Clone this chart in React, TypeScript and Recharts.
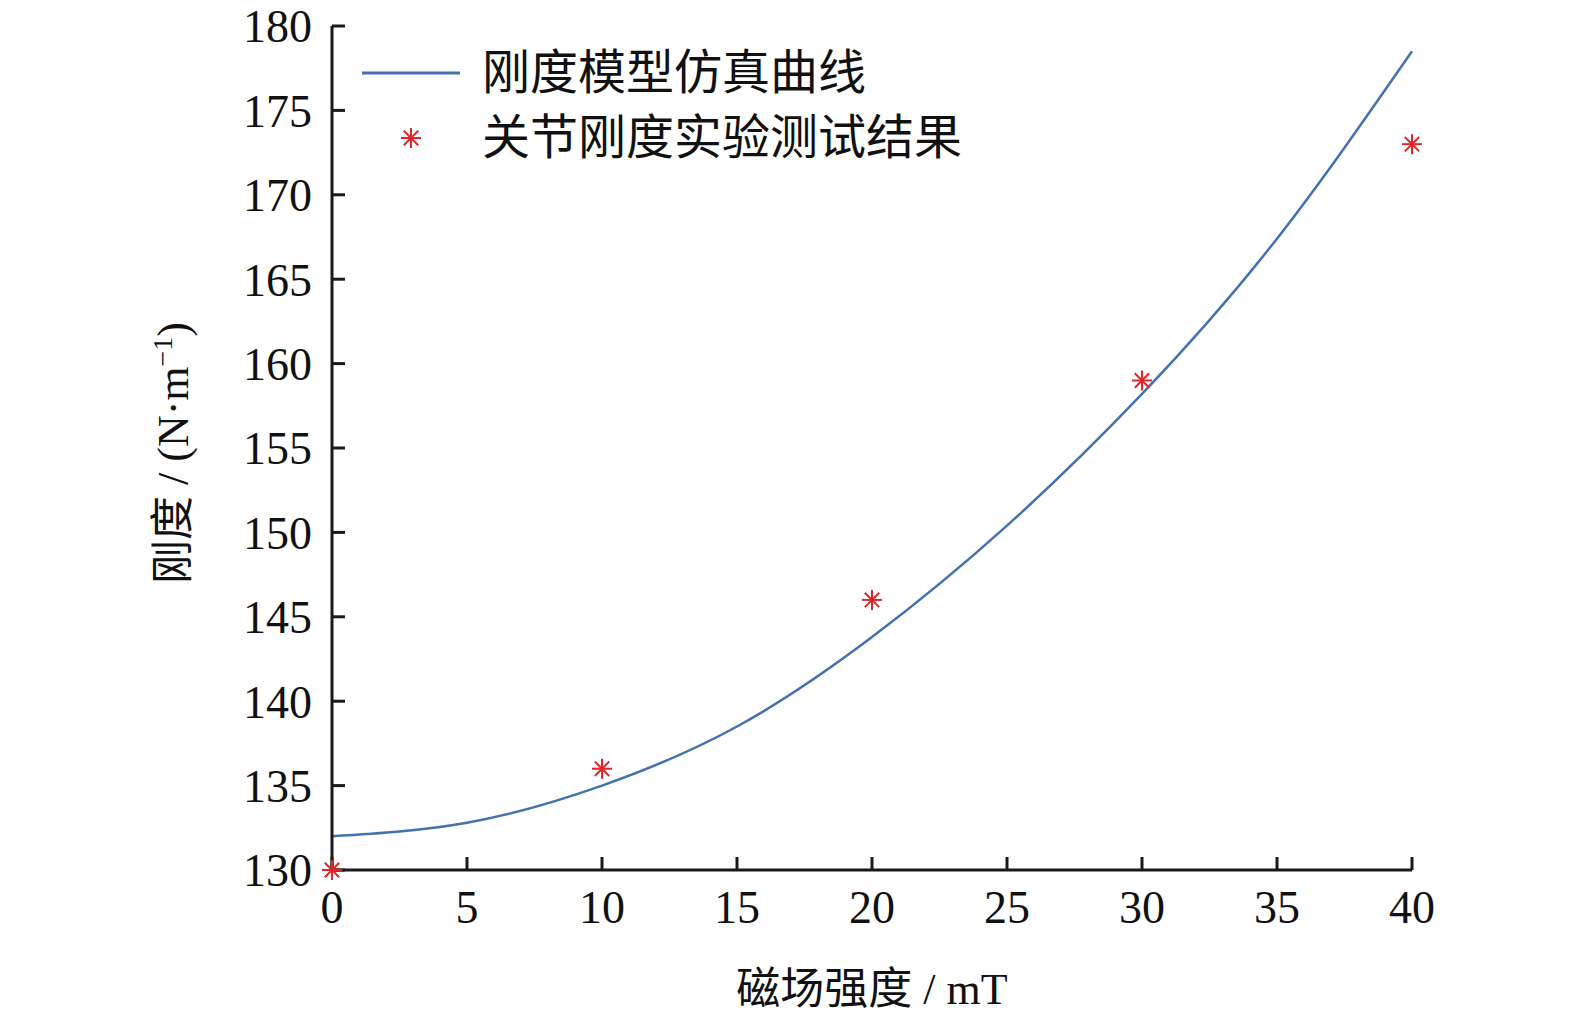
import React from 'react'
import {
  ComposedChart,
  Line,
  Scatter,
  XAxis,
  YAxis,
  Label,
} from 'recharts'

// magnetic field strength (mT) and stiffness (N·m⁻¹)
const fieldTicks = [0, 5, 10, 15, 20, 25, 30, 35, 40]
const stiffnessTicks = [130, 135, 140, 145, 150, 155, 160, 165, 170, 175, 180]

const simField = [0, 5, 10, 15, 20, 25, 30, 35, 40]
const simStiffness = [132.0, 132.8, 135.0, 138.5, 143.8, 150.4, 158.2, 167.4, 178.5]

const testField = [0, 10, 20, 30, 40]
const testStiffness = [130, 136, 146, 159, 173]

const simData = simField.map((x, i) => ({ x, k: simStiffness[i] }))
const testData = testField.map((x, i) => ({ x, k: testStiffness[i] }))

const SIM_NAME = '刚度模型仿真曲线'
const TEST_NAME = '关节刚度实验测试结果'

const SERIF = '"Liberation Serif", "Times New Roman", "Noto Sans CJK SC", serif'
const BLUE = '#4272B0'
const RED = '#E0262B'
const AXIS = '#1a1a1a'

function Star({ cx, cy, r = 10, color = RED }: { cx: number; cy: number; r?: number; color?: string }) {
  const d = r * 0.72
  return (
    <g stroke={color} strokeWidth={2}>
      <line x1={cx} y1={cy - r} x2={cx} y2={cy + r} />
      <line x1={cx - r} y1={cy} x2={cx + r} y2={cy} />
      <line x1={cx - d} y1={cy - d} x2={cx + d} y2={cy + d} />
      <line x1={cx - d} y1={cy + d} x2={cx + d} y2={cy - d} />
    </g>
  )
}

function ChartLegend() {
  const rows = [
    { name: SIM_NAME, kind: 'line' },
    { name: TEST_NAME, kind: 'star' },
  ]
  return (
    <div
      style={{
        position: 'absolute',
        left: 362,
        top: 40,
        fontFamily: SERIF,
        fontSize: 48,
        color: '#111',
      }}
    >
      {rows.map((r) => (
        <div key={r.name} style={{ display: 'flex', alignItems: 'center', height: 65 }}>
          <svg width={98} height={24} style={{ overflow: 'visible' }}>
            {r.kind === 'line' ? (
              <line x1={0} x2={98} y1={12} y2={12} stroke={BLUE} strokeWidth={3} />
            ) : (
              <Star cx={49} cy={12} />
            )}
          </svg>
          <span style={{ marginLeft: 22, lineHeight: 1, whiteSpace: 'nowrap' }}>{r.name}</span>
        </div>
      ))}
    </div>
  )
}

const tickStyle = { fill: '#111', fontSize: 46, fontFamily: SERIF }

export default function App() {
  return (
    <div style={{ position: 'relative', width: 1575, height: 1024, margin: -8, fontFamily: SERIF }}>
      <ComposedChart
        width={1575}
        height={1024}
        margin={{ top: 26, right: 163, bottom: 94, left: 232 }}
      >
        <XAxis
          dataKey="x"
          type="number"
          domain={[0, 40]}
          ticks={fieldTicks}
          interval={0}
          height={60}
          stroke={AXIS}
          strokeWidth={3}
          tickSize={-13}
          tickMargin={33}
          tick={tickStyle}
        >
          <Label
            content={({ viewBox }: any) => (
              <text
                x={viewBox.x + viewBox.width / 2}
                y={viewBox.y + 134}
                textAnchor="middle"
                fontSize={44}
                fontFamily={SERIF}
                fill="#111"
              >
                磁场强度 / mT
              </text>
            )}
          />
        </XAxis>
        <YAxis
          type="number"
          domain={[130, 180]}
          ticks={stiffnessTicks}
          interval={0}
          width={100}
          stroke={AXIS}
          strokeWidth={3}
          tickSize={-13}
          tickMargin={33}
          tick={tickStyle}
        >
          <Label
            content={({ viewBox }: any) => {
              const cx = viewBox.x + viewBox.width - 144
              const cy = viewBox.y + viewBox.height / 2 + 5
              return (
                <text
                  x={cx}
                  y={cy}
                  transform={`rotate(-90, ${cx}, ${cy})`}
                  textAnchor="middle"
                  fontSize={44}
                  fontFamily={SERIF}
                  fill="#111"
                >
                  刚度 / (N·m
                  <tspan dy={-16} fontSize={28}>−1</tspan>
                  <tspan dy={16}>)</tspan>
                </text>
              )
            }}
          />
        </YAxis>
        <Line
          data={simData}
          dataKey="k"
          name={SIM_NAME}
          type="natural"
          stroke={BLUE}
          strokeWidth={2.5}
          dot={false}
          activeDot={false}
          isAnimationActive={false}
        />
        <Scatter
          data={testData}
          dataKey="k"
          name={TEST_NAME}
          fill={RED}
          shape={(p: any) => <Star cx={p.cx} cy={p.cy} />}
          isAnimationActive={false}
        />
      </ComposedChart>
      <ChartLegend />
    </div>
  )
}
